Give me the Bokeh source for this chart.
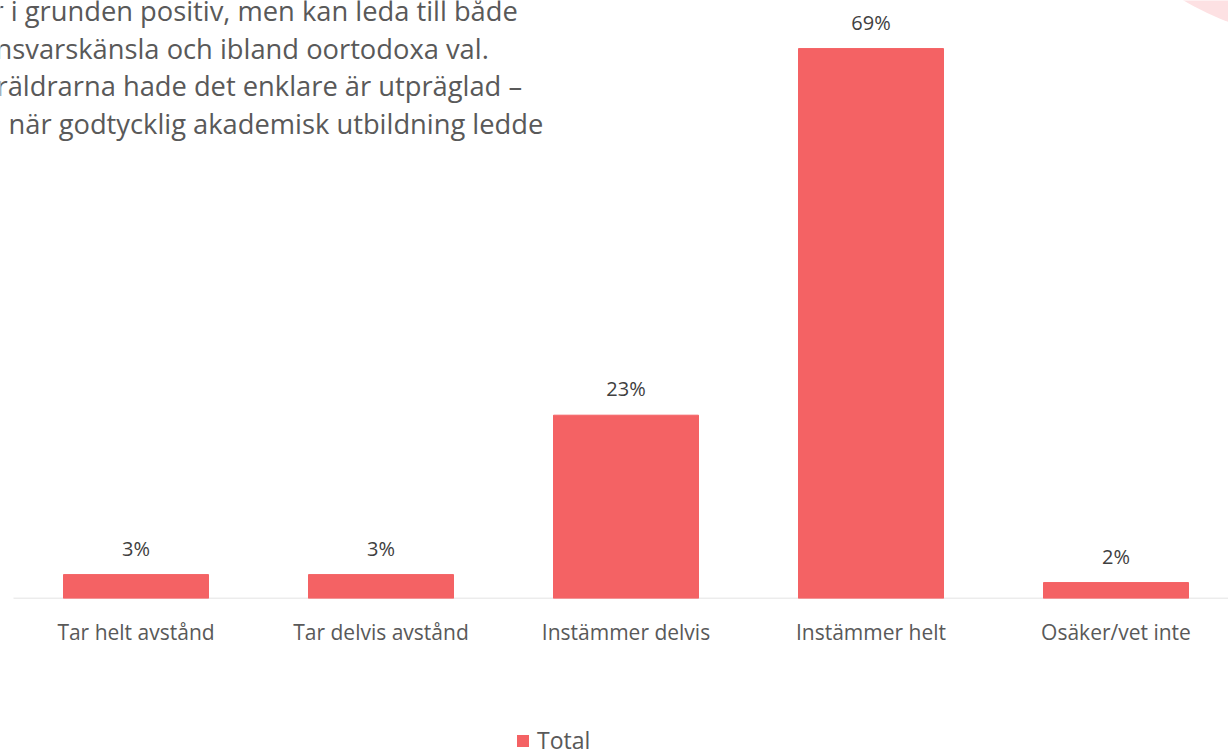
from bokeh.plotting import figure
from bokeh.layouts import column
from bokeh.models import (ColumnDataSource, LabelSet, Label, Legend, LegendItem,
                          FixedTicker, Range1d)
from bokeh.embed import file_html
from bokeh.resources import INLINE
from bokeh.core.properties import value

categories = ["Tar helt avstånd", "Tar delvis avstånd", "Instämmer delvis",
              "Instämmer helt", "Osäker/vet inte"]
values = [3, 3, 23, 69, 2]
series_name = "Total"
intro_lines = [
    "r i grunden positiv, men kan leda till både",
    "nsvarskänsla och ibland oortodoxa val.",
    "räldrarna hade det enklare är utpräglad –",
    "när godtycklig akademisk utbildning ledde",
]
# horizontal start (px) of each cut-off intro line
intro_x_px = [-8, -5, -4, 8]

BAR = "#F46264"
FONT = "Open Sans"

W = 1228
H1, H2 = 680, 71
bottom = 82
axis_left_px = 13
frame_w = W
frame_h = H1 - bottom  # 598
cat_px = 245.0
px_per_pct = 7.97

x_start = -0.5 - axis_left_px / cat_px
x_end = x_start + frame_w / cat_px
y_end = frame_h / px_per_pct

p = figure(width=W, height=H1, output_backend="svg", toolbar_location=None,
           x_range=Range1d(x_start, x_end), y_range=Range1d(0, y_end),
           min_border_left=0, min_border_right=0, min_border_top=0,
           min_border_bottom=bottom)
p.outline_line_color = None
p.xgrid.visible = False
p.ygrid.visible = False
p.yaxis.visible = False
p.background_fill_color = "white"
p.border_fill_color = "white"

def px_to_x(px):
    return x_start + px / cat_px

def py_to_y(py):
    return (frame_h - py) / px_per_pct

# decorative pink circle top-right
p.scatter(x=[px_to_x(1330)], y=[py_to_y(-250)], size=580, marker="circle",
          fill_color="#FDE1E3", line_color=None)

xs = list(range(len(categories)))
src = ColumnDataSource(dict(x=xs, top=values,
                            lab=[f"{v}%" for v in values]))

# category axis baseline (starts at the plot area's left edge)
p.segment(x0=[px_to_x(axis_left_px)], y0=[0], x1=[x_end], y1=[0],
          line_color="#D9D9D9", line_width=1.5)

r = p.vbar(x="x", top="top", width=145 / cat_px, source=src,
           fill_color=BAR, line_color=BAR)

labels = LabelSet(x="x", y="top", text="lab", source=src, y_offset=19,
                  text_align="center", text_baseline="alphabetic",
                  text_font=value(FONT), text_font_size="20px",
                  text_color="#404040")
p.add_layout(labels)

ax = p.xaxis[0]
ax.ticker = FixedTicker(ticks=xs)
ax.major_label_overrides = {i: c for i, c in enumerate(categories)}
ax.major_tick_line_color = None
ax.minor_tick_line_color = None
ax.axis_line_color = None
ax.major_label_text_font = FONT
ax.major_label_text_font_size = "21px"
ax.major_label_text_color = "#595959"
ax.major_label_standoff = 13

# intro text (cut off at left edge)
for i, line in enumerate(intro_lines):
    p.add_layout(Label(x=px_to_x(intro_x_px[i]), y=py_to_y(10 + 37.5 * i),
                       text=line, text_font=FONT, text_font_size="27.3px",
                       text_color="#595959", text_baseline="middle",
                       text_align="left"))

# legend strip below the chart
p2 = figure(width=W, height=H2, output_backend="svg", toolbar_location=None,
            x_range=Range1d(0, 1), y_range=Range1d(0, 1),
            min_border=0)
p2.outline_line_color = None
p2.axis.visible = False
p2.grid.visible = False
p2.border_fill_color = "white"
# zero-size proxy bar that carries the series style for the legend
r2 = p2.vbar(x=[0.5], top=[0], bottom=[0], width=0, fill_color=BAR,
             line_color=None)
legend = Legend(items=[LegendItem(label=series_name, renderers=[r2])],
                location=(515, -5), orientation="horizontal",
                label_text_font=FONT, label_text_font_size="23px",
                label_text_color="#595959", glyph_width=15, glyph_height=15,
                label_height=15, border_line_color=None,
                background_fill_alpha=0, label_standoff=7, padding=0, margin=0)
p2.add_layout(legend)

layout = column(p, p2, spacing=0)
open("out.html", "w").write(file_html(layout, INLINE))
